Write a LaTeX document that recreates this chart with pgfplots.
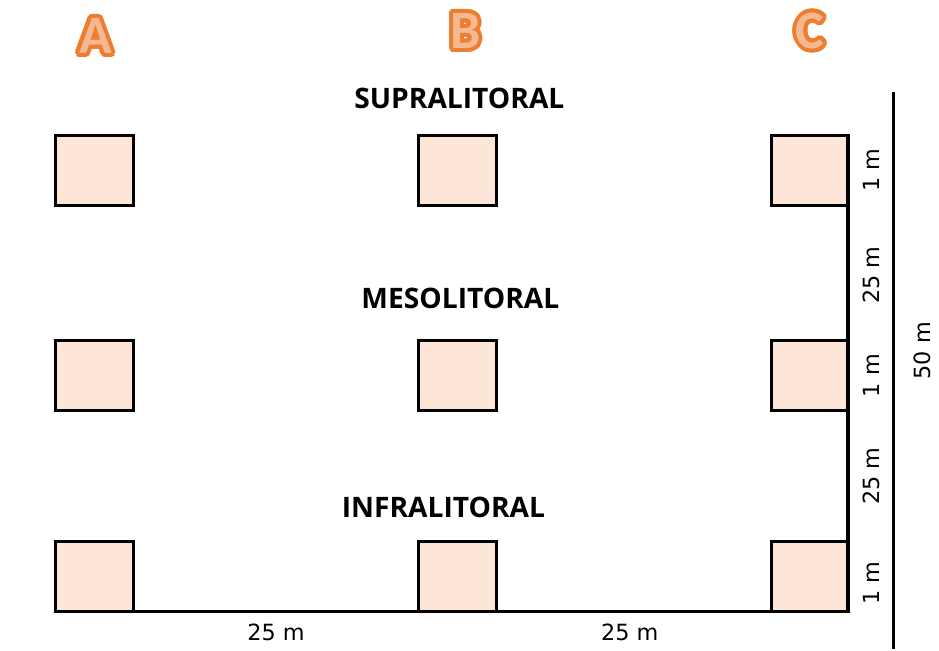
\documentclass[border=0pt]{standalone}
\usepackage{pgfplots}
\pgfplotsset{compat=1.18}
\usepackage{fontspec}
\setmainfont{DejaVu Sans}
\newfontface\labfont{Open Sans Bold}
\newfontface\letfont{Carlito Bold}
\definecolor{sq}{HTML}{FDE5D8}
\definecolor{orng}{HTML}{ED7D31}
\definecolor{orlt}{HTML}{F6B890}
\begin{document}
\begin{tikzpicture}
\begin{axis}[width=14cm,height=9.706cm,scale only axis,hide axis,
  xmin=0,xmax=939,ymin=0,ymax=651,y dir=reverse,clip=false]
\path (axis cs:0,0) rectangle (axis cs:939,651);
% lines
\addplot[black,line width=1.3pt] coordinates {(56,614) (851,614)};
\addplot[black,line width=1.3pt] coordinates {(851,136) (851,614)};
\addplot[black,line width=1.3pt] coordinates {(897,92) (897,651)};
% squares
\addplot[fill=sq,draw=black,line width=1.3pt] coordinates {(56,136) (134,136) (134,206) (56,206)} --cycle;
\addplot[fill=sq,draw=black,line width=1.3pt] coordinates {(420,136) (498,136) (498,206) (420,206)} --cycle;
\addplot[fill=sq,draw=black,line width=1.3pt] coordinates {(774,136) (851,136) (851,206) (774,206)} --cycle;
\addplot[fill=sq,draw=black,line width=1.3pt] coordinates {(56,342) (134,342) (134,412) (56,412)} --cycle;
\addplot[fill=sq,draw=black,line width=1.3pt] coordinates {(420,342) (498,342) (498,412) (420,412)} --cycle;
\addplot[fill=sq,draw=black,line width=1.3pt] coordinates {(774,342) (851,342) (851,412) (774,412)} --cycle;
\addplot[fill=sq,draw=black,line width=1.3pt] coordinates {(56,543) (134,543) (134,614) (56,614)} --cycle;
\addplot[fill=sq,draw=black,line width=1.3pt] coordinates {(420,543) (498,543) (498,614) (420,614)} --cycle;
\addplot[fill=sq,draw=black,line width=1.3pt] coordinates {(774,543) (851,543) (851,614) (774,614)} --cycle;
% zone labels
\node[font=\labfont\fontsize{12}{14}\selectfont] at (axis cs:461,99) {SUPRALITORAL};
\node[font=\labfont\fontsize{12}{14}\selectfont] at (axis cs:462,299) {MESOLITORAL};
\node[font=\labfont\fontsize{12}{14}\selectfont] at (axis cs:445,509) {INFRALITORAL};
% distances
\node[font=\fontsize{9.5}{11}\selectfont] at (axis cs:277,635) {25 m};
\node[font=\fontsize{9.5}{11}\selectfont] at (axis cs:632,635) {25 m};
\node[font=\fontsize{9.5}{11}\selectfont,rotate=90] at (axis cs:874,171) {1 m};
\node[font=\fontsize{9.5}{11}\selectfont,rotate=90] at (axis cs:874,377) {1 m};
\node[font=\fontsize{9.5}{11}\selectfont,rotate=90] at (axis cs:874,585) {1 m};
\node[font=\fontsize{9.5}{11}\selectfont,rotate=90] at (axis cs:874,276) {25 m};
\node[font=\fontsize{9.5}{11}\selectfont,rotate=90] at (axis cs:874,478) {25 m};
\node[font=\fontsize{9.5}{11}\selectfont,rotate=90] at (axis cs:926,352) {50 m};
\coordinate (LA) at (axis cs:96,36);
\coordinate (LB) at (axis cs:467,31);
\coordinate (LC) at (axis cs:813,31);
\end{axis}
% outlined letters
\foreach \p/\t in {LA/A,LB/B,LC/C}{
  \foreach \a in {0,22.5,...,337.5}{
    \node[font=\letfont\fontsize{23}{25}\selectfont,text=orng,inner sep=0pt]
      at ([shift={(\a:1.7pt)}]\p) {\t};
  }
  \node[font=\letfont\fontsize{23}{25}\selectfont,text=orlt,inner sep=0pt] at (\p) {\t};
}
\end{tikzpicture}
\end{document}
